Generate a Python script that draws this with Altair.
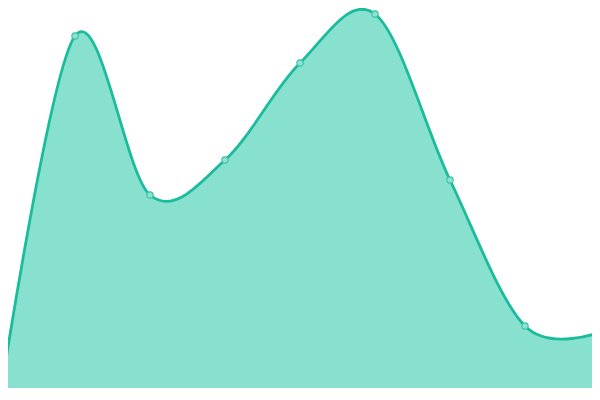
import altair as alt
import pandas as pd

# data
steps = [0, 1, 2, 3, 4, 5, 6, 7, 8]
values = [2, 364, 205, 240, 337, 386, 220, 74, 68]

df = pd.DataFrame({"step": steps, "value": values})

W, H = 584, 380

x_enc = alt.X("step:Q", axis=None,
              scale=alt.Scale(domain=[8 / 75, 8 / 75 + W / 75], nice=False, zero=False))
y_enc = alt.Y("value:Q", axis=None,
              scale=alt.Scale(domain=[392 - H, 392], nice=False, zero=False))

area = alt.Chart(df).mark_area(
    interpolate="cardinal",
    color="#88e0cf",
    opacity=1,
    clip=True,
    line={"color": "#1abc9c", "strokeWidth": 2.8, "interpolate": "cardinal"},
).encode(x=x_enc, y=y_enc)

points = alt.Chart(df).mark_point(
    shape="circle",
    size=40,
    filled=True,
    fill="#8fe2d2",
    stroke="#36c2a4",
    strokeWidth=1.1,
    opacity=1,
    clip=True,
).encode(x=x_enc, y=y_enc)

chart = alt.layer(area, points).properties(
    width=W,
    height=H,
    padding=0,
    autosize=alt.AutoSizeParams(type="none"),
).configure_view(stroke=None)

chart.save("out.html", embed_options={"renderer": "svg", "actions": False})
